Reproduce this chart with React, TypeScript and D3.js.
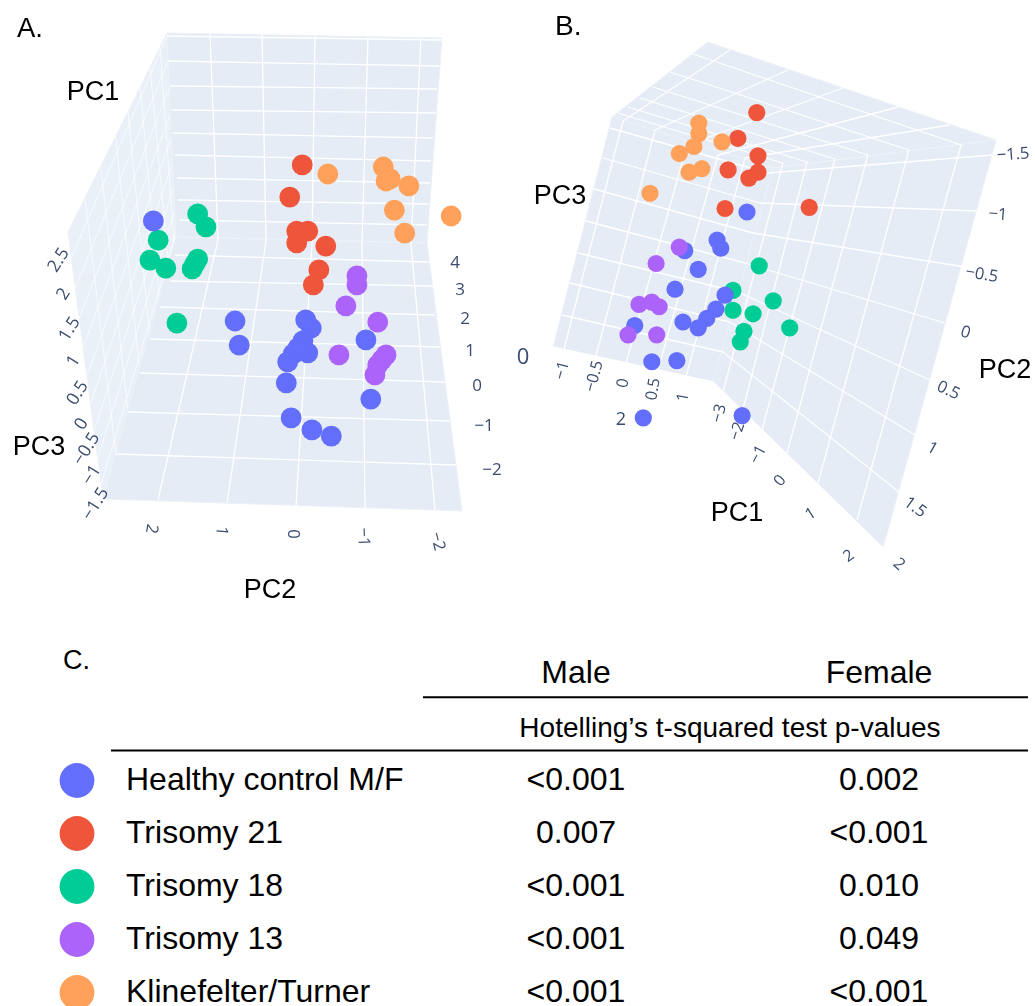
import React from "react";
import * as d3 from "d3";

type Pt = [number, number];

// ---------- values ----------
// Panel A, projected read-outs in axis units: horizontal on the PC2 ruler, vertical on the PC1 ruler
const aHealthyH = [2.06, 0.88, 0.82, -0.14, -0.22, -0.1, -0.17, 0.04, 0.12, 0.14, -1.01, -1.08, 0.07, -0.23, -0.51, -0.03];
const aHealthyV = [5.06, 2.2, 1.51, 2.23, 2.0, 1.63, 1.29, 1.26, 1.03, 0.43, 1.66, -0.03, -0.57, -0.91, -1.09, 1.43];
const aT21H = [-0.09, 0.09, -0.01, -0.17, -0.01, -0.43, -0.33, -0.25];
const aT21V = [6.66, 5.74, 4.77, 4.77, 4.43, 4.34, 3.66, 3.23];
const aT18H = [1.42, 1.3, 1.99, 2.11, 1.88, 1.42, 1.5, 1.46, 1.72];
const aT18V = [5.26, 4.89, 4.51, 3.94, 3.71, 3.97, 3.69, 3.83, 2.14];
const aT13H = [-0.88, -0.88, -0.72, -1.18, -0.62, -1.3, -1.24, -1.18, -1.14];
const aT13V = [3.49, 3.23, 2.63, 2.17, 1.23, 1.23, 1.09, 0.94, 0.66];
const aKtH = [-0.46, -1.26, -1.36, -1.3, -1.63, -1.42, -1.57, -2.24];
const aKtV = [6.4, 6.6, 6.26, 6.2, 6.06, 5.37, 4.71, 5.2];

// Panel B, projected read-outs: horizontal on the lower-left ruler, vertical on the PC2 ruler
const bHealthyH = [2.0, 1.51, 1.57, 0.98, 1.2, 0.82, 1.64, 1.49, 1.34, 0.95, 1.2, 0.16, 0.44, 0.85, 1.92, 0.3];
const bHealthyV = [-1.0, -0.76, -0.69, -0.67, -0.51, -0.34, -0.29, -0.17, -0.09, -0.06, -0.01, -0.03, 0.28, 0.27, 0.74, 0.76];
const bT21H = [2.16, 1.85, 2.18, 2.18, 2.03, 1.69, 1.64, 3.02];
const bT21V = [-1.85, -1.63, -1.48, -1.34, -1.29, -1.36, -1.03, -1.04];
const bT18H = [2.2, 1.77, 2.43, 1.77, 2.1, 2.7, 1.95, 1.89];
const bT18V = [-0.54, -0.33, -0.24, -0.16, -0.13, -0.01, 0.02, 0.11];
const bT13H = [0.89, 0.51, 0.23, 0.44, 0.56, 0.05, 0.52];
const bT13V = [-0.7, -0.56, -0.21, -0.23, -0.19, 0.05, 0.05];
const bKtH = [1.21, 1.21, 1.13, 1.59, 0.89, 1.05, 1.26, 0.41];
const bKtV = [-1.76, -1.67, -1.56, -1.6, -1.5, -1.34, -1.37, -1.16];

const groups = ["Healthy control M/F", "Trisomy 21", "Trisomy 18", "Trisomy 13", "Klinefelter/Turner"];
const groupColors = ["#636EFA", "#EF553B", "#00CC96", "#AB63FA", "#FFA15A"];
const maleP = ["<0.001", "0.007", "<0.001", "<0.001", "<0.001"];
const femaleP = ["0.002", "<0.001", "0.010", "0.049", "<0.001"];

const aPc1Ticks = [4, 3, 2, 1, 0, -1, -2];
const aPc2Ticks = [2, 1, 0, -1, -2];
const aPc3Ticks = [2.5, 2, 1.5, 1, 0.5, 0, -0.5, -1, -1.5];
const bPc2Ticks = [-1.5, -1, -0.5, 0, 0.5, 1, 1.5, 2];
const bPc3Ticks = [-1, -0.5, 0, 0.5, 1];
const bPc1Ticks = [-3, -2, -1, 0, 1, 2];

const fmt = (v: number) => String(v).replace("-", "\u2212");

// ---------- scales ----------
const edge = (dom: number[], pts: Pt[]) => {
  const s = d3.scaleLinear<number[]>().domain(dom).range(pts as unknown as number[][]);
  return (v: number): Pt => {
    const p = s(v) as unknown as number[];
    return [p[0], p[1]];
  };
};

const axH = d3.scaleLinear().domain([2, -2]).range([157.5, 434.5]);
const axV = d3.scaleLinear().domain([-2, 4]).range([468, 258]);
const bxH = d3.scaleLinear().domain([-1, 1]).range([564, 686]);
const bxV = d3.scaleLinear().domain([-1.5, 2]).range([153.5, 563]);

// Panel A rulers
const A = {
  backTop: edge(aPc2Ticks, [[210, 33], [262, 34], [315, 35], [368, 37], [421, 38]]),
  backFold: edge(aPc2Ticks, [[218, 240], [266, 241], [312, 243], [362, 243], [411, 244]]),
  floorNear: edge(aPc2Ticks, [[158, 500], [227, 503], [296, 506], [365, 508], [435, 510]]),
  backLeft: edge(aPc3Ticks, [[167, 36], [168, 61], [170, 86], [172, 110], [173, 133], [175, 155], [177, 178], [178, 200], [180, 220]]),
  backRight: edge(aPc3Ticks, [[442, 40], [439, 66], [437, 89], [436, 113], [433, 138], [431, 161], [430, 183], [428, 204], [427, 225]]),
  sideNear: edge(aPc3Ticks, [[71.4, 258], [75.4, 288], [79.3, 318], [83.1, 347], [87, 376], [90.6, 404], [94.2, 431], [97.7, 458], [101.2, 484]]),
  floorLeft: edge(aPc1Ticks, [[175, 255], [170, 281], [160, 307], [150, 339], [140, 373], [128, 412], [116, 454]]),
  floorRight: edge(aPc1Ticks, [[430, 262], [433, 286], [435, 315], [440, 347], [445, 382], [450, 421], [456, 465]]),
  sideTop: edge(aPc1Ticks, [[160, 47], [150, 67], [140, 86], [128, 111], [115.5, 136], [100.7, 166], [85, 198]]),
  labPc1: edge(aPc1Ticks, [[455, 261], [460, 288], [465, 317], [470, 349], [477, 384], [484, 424], [492, 468]]),
  labPc2: edge(aPc2Ticks, [[153, 529], [223, 531], [294, 534], [365, 537], [439, 541]]),
  labPc3: edge(aPc3Ticks, [[57, 259], [62, 293], [68, 328], [72, 360], [76, 392], [80, 423], [85, 448], [90, 474], [94, 503]]),
};
const aSide: Pt[] = [[167, 33], [68, 232], [103, 499], [176, 237]];
const aBack: Pt[] = [[167, 33], [442, 38], [427, 243], [176, 237]];
const aFloor: Pt[] = [[176, 237], [427, 243], [462, 511], [103, 499]];
const aPc2Rot = [100, 95, 90, 88, 76];

// Panel B rulers
const B = {
  left: edge(bPc2Ticks, [[610, 128], [603, 158], [594, 189], [586, 221], [578, 253], [570, 283], [562, 315], [553, 347]]),
  fold: edge(bPc2Ticks, [[768, 173], [760, 203], [753, 233], [745, 263], [738, 292], [730, 322], [723, 352], [713, 382]]),
  right: edge(bPc2Ticks, [[993, 155], [977, 211], [965, 267], [945, 323], [930, 380], [915, 435], [899, 492], [883, 548]]),
  wallTop: edge(bPc3Ticks, [[623, 121], [655, 130], [687, 145], [718, 155], [745, 158]]),
  wallBottom: edge(bPc3Ticks, [[564, 349], [596, 356], [626, 363], [658, 370], [686, 377]]),
  roofFar: edge(bPc3Ticks, [[730, 50], [788, 70], [843, 88], [898, 107], [950, 125]]),
  roofLeft: edge(bPc1Ticks, [[618, 113], [628, 107], [640, 98], [653, 87], [670, 72], [693, 54]]),
  rightTop: edge(bPc1Ticks, [[783, 163], [807, 162], [835, 159], [868, 155], [909, 150], [961, 145]]),
  rightBottom: edge(bPc1Ticks, [[723, 392], [742, 413], [762, 430], [787, 453], [818, 483], [857, 520]]),
  labPc2: edge(bPc2Ticks, [[1013, 153], [998, 213], [982, 273], [966, 331], [949, 389], [933, 447], [916, 506], [900, 563]]),
  labPc3: edge(bPc3Ticks, [[561, 370], [593, 376], [622, 383], [652, 389], [682, 397]]),
  labPc1: edge(bPc1Ticks, [[718, 413], [736, 431], [757, 454], [779, 480], [810, 513], [848, 555]]),
};
const bC: Pt = [773, 168];
const bRoof: Pt[] = [[612, 117], [708, 42], [996, 140], bC];
const bLeft: Pt[] = [[612, 117], bC, [713, 382], [553, 347]];
const bRight: Pt[] = [bC, [996, 140], [883, 548], [713, 382]];
const bPc2Rot = [-4, 4, 10, 18, 25, 30, 36, 42];
const bPc3Rot = [-75, -75, -80, -80, -80];
const bPc1Rot = [-75, -72, -62, -50, -32, -35];

// ---------- drawing helpers ----------
const WALL = "#E5ECF6";
const TICK = "#3a4c6e";
const SANS = "'Liberation Sans', Arial, sans-serif";
const TICKFONT = "'Open Sans', sans-serif";
const line = d3.line();

const poly = (pts: Pt[], key: string, fill = WALL) => (
  <path key={key} d={line(pts)! + "Z"} fill={fill} stroke="#edf1f8" strokeWidth={1} />
);
const gridPath = (pts: Pt[], key: string, w = 1.3, op = 1) => (
  <path key={key} d={line(pts)!} fill="none" stroke="#fff" strokeWidth={w} strokeOpacity={op} strokeLinejoin="round" />
);

function Dots({ h, v, sx, sy, color, r }: { h: number[]; v: number[]; sx: (n: number) => number; sy: (n: number) => number; color: string; r: number }) {
  return (
    <g fill={color}>
      {h.map((d, i) => (
        <circle key={i} cx={sx(d)} cy={sy(v[i])} r={r} />
      ))}
    </g>
  );
}

function TickText({ p, text, rot = 0, size, }: { p: Pt; text: string; rot?: number; size: number }) {
  return (
    <text transform={`translate(${p[0]},${p[1]}) rotate(${rot})`} textAnchor="middle" dominantBaseline="central" fontFamily={TICKFONT} fontSize={size} fill={TICK}>
      {text}
    </text>
  );
}

const Label = ({ x, y, s, size = 27, anchor = "middle" }: { x: number; y: number; s: string; size?: number; anchor?: string }) => (
  <text x={x} y={y} fontFamily={SANS} fontSize={size} textAnchor={anchor as "middle"} fill="#000">
    {s}
  </text>
);

export default function App() {
  return (
    <svg width={1035} height={1006} viewBox="0 0 1035 1006" style={{ position: "absolute", left: 0, top: 0, background: "#fff" }}>
      <defs>
        <filter id="soft" x="0" y="0" width="100%" height="100%" filterUnits="userSpaceOnUse" primitiveUnits="userSpaceOnUse">
          <feGaussianBlur stdDeviation="0.5" />
        </filter>
      </defs>
      {/* Panel A */}
      <g filter="url(#soft)">
        {poly(aSide, "s", "#EAF0F8")}
        {aPc3Ticks.map((t) => gridPath([A.backLeft(t), A.sideNear(t)], "s3" + t, 0.9, 0.75))}
        {aPc1Ticks.map((t) => gridPath([A.floorLeft(t), A.sideTop(t)], "s1" + t, 0.9, 0.75))}
        {poly(aBack, "b")}
        {poly(aFloor, "f")}
        {aPc3Ticks.map((t) => gridPath([A.backLeft(t), A.backRight(t)], "b3" + t))}
        {aPc2Ticks.map((t) => gridPath([A.backTop(t), A.backFold(t), A.floorNear(t)], "b2" + t))}
        {aPc1Ticks.map((t) => gridPath([A.floorLeft(t), A.floorRight(t)], "f1" + t))}
        <Dots h={aT18H} v={aT18V} sx={axH} sy={axV} color={groupColors[2]} r={10.4} />
        <Dots h={aHealthyH} v={aHealthyV} sx={axH} sy={axV} color={groupColors[0]} r={10.4} />
        <Dots h={aT13H} v={aT13V} sx={axH} sy={axV} color={groupColors[3]} r={10.4} />
        <Dots h={aT21H} v={aT21V} sx={axH} sy={axV} color={groupColors[1]} r={10.4} />
        <Dots h={aKtH} v={aKtV} sx={axH} sy={axV} color={groupColors[4]} r={10.4} />
        {aPc1Ticks.map((t) => <TickText key={"l1" + t} p={A.labPc1(t)} text={fmt(t)} size={17} />)}
        {aPc2Ticks.map((t, i) => <TickText key={"l2" + t} p={A.labPc2(t)} text={fmt(t)} rot={aPc2Rot[i]} size={16.5} />)}
        {aPc3Ticks.map((t) => <TickText key={"l3" + t} p={A.labPc3(t)} text={fmt(t)} rot={-58} size={17.5} />)}
        <Label x={93} y={100} s="PC1" />
        <Label x={39} y={455} s="PC3" />
        <Label x={270} y={598} s="PC2" />
        <Label x={17} y={37} s="A." size={27.5} anchor="start" />
      </g>

      {/* Panel B */}
      <g filter="url(#soft)">
        {poly(bRoof, "r")}
        {poly(bLeft, "l")}
        {poly(bRight, "rr")}
        {bPc3Ticks.map((t) => gridPath([B.roofFar(t), B.wallTop(t), B.wallBottom(t)], "v3" + t))}
        {bPc1Ticks.map((t) => gridPath([B.roofLeft(t), B.rightTop(t), B.rightBottom(t)], "v1" + t))}
        {bPc2Ticks.map((t) => gridPath([B.left(t), B.fold(t), B.right(t)], "h2" + t))}
        <Dots h={bT18H} v={bT18V} sx={bxH} sy={bxV} color={groupColors[2]} r={8.6} />
        <Dots h={bHealthyH} v={bHealthyV} sx={bxH} sy={bxV} color={groupColors[0]} r={8.6} />
        <Dots h={bT13H} v={bT13V} sx={bxH} sy={bxV} color={groupColors[3]} r={8.6} />
        <Dots h={bT21H} v={bT21V} sx={bxH} sy={bxV} color={groupColors[1]} r={8.6} />
        <Dots h={bKtH} v={bKtV} sx={bxH} sy={bxV} color={groupColors[4]} r={8.6} />
        {bPc2Ticks.map((t, i) => <TickText key={"m2" + t} p={B.labPc2(t)} text={fmt(t)} rot={bPc2Rot[i]} size={16.5} />)}
        {bPc3Ticks.map((t, i) => <TickText key={"m3" + t} p={B.labPc3(t)} text={fmt(t)} rot={bPc3Rot[i]} size={16} />)}
        {bPc1Ticks.map((t, i) => <TickText key={"m1" + t} p={B.labPc1(t)} text={fmt(t)} rot={bPc1Rot[i]} size={16} />)}
        <TickText p={[523, 355]} text="0" size={22} />
        <TickText p={[621, 418]} text="2" size={18} />
        <Label x={560} y={204} s="PC3" />
        <Label x={1005} y={378} s="PC2" />
        <Label x={737} y={521} s="PC1" />
        <Label x={555} y={35} s="B." size={28} anchor="start" />
      </g>

      {/* Panel C: table */}
      <g>
        <Label x={63} y={669} s="C." size={27} anchor="start" />
        <Label x={576} y={683} s="Male" size={32} />
        <Label x={879} y={683} s="Female" size={32} />
        <path d="M423,697.3H1028" stroke="#000" strokeWidth={2} />
        <Label x={730} y={737} s="Hotelling’s t-squared test p-values" size={28} />
        <path d="M111,750.6H1028" stroke="#000" strokeWidth={2} />
        {groups.map((g, i) => {
          const y = d3.scaleLinear().domain([0, 4]).range([790, 1002])(i);
          return (
            <g key={g}>
              <circle cx={77} cy={y - 9.5} r={17.4} fill={groupColors[i]} />
              <Label x={126} y={y} s={g} size={32} anchor="start" />
              <Label x={576} y={y} s={maleP[i]} size={32} />
              <Label x={879} y={y} s={femaleP[i]} size={32} />
            </g>
          );
        })}
      </g>
    </svg>
  );
}
